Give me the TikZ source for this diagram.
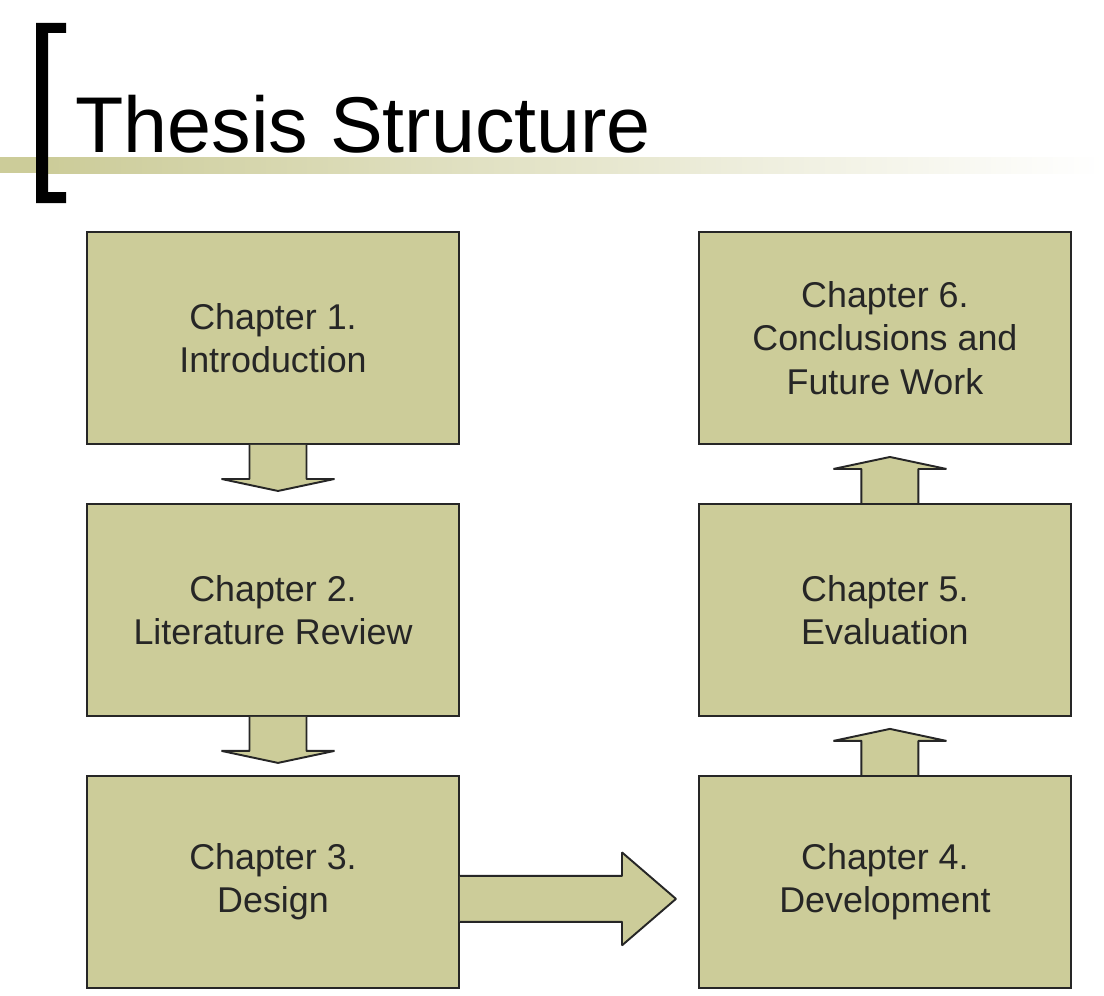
\documentclass[tikz,border=0pt]{standalone}
\usepackage{fontspec}
\setmainfont{Liberation Sans}
\usepackage{tikz}
\usetikzlibrary{positioning, calc}
\definecolor{chapfill}{HTML}{CCCC99}
\definecolor{chapline}{HTML}{262626}
\tikzset{
    chap_box/.style={rectangle, draw=chapline, line width=1.1pt, fill=chapfill, text=chapline, align=center, minimum width=7.44cm, minimum height=4.24cm, font=\fontsize{20.4}{24.6}\selectfont},
    fat_arrow/.style={draw=chapline, line width=1.1pt, fill=chapfill, line join=bevel}
}
\begin{document}
\begin{tikzpicture}[node distance=1.16cm and 4.76cm]
			\useasboundingbox (0,0) rectangle (22.08,-19.92);
			% title bar and bracket
			\fill[chapfill] (0,-3.14) rectangle (0.96,-3.46);
			\shade[left color=chapfill, right color=white] (0.96,-3.14) rectangle (22.08,-3.46);
			\fill[black] (0.72,-0.46) -- (1.32,-0.46) -- (1.32,-0.66) -- (0.96,-0.66) -- (0.96,-3.84) -- (1.32,-3.84) -- (1.32,-4.06) -- (0.72,-4.06) -- cycle;
			\node (title) [anchor=base west, inner sep=0pt, font=\fontsize{45}{54}\selectfont] at (1.5,-3.06) {Thesis Structure};
			
			\node (c1) [chap_box] at (5.46,-6.76) {Chapter 1.\\Introduction};
			\node (c2) [chap_box, below=of c1] {Chapter 2.\\Literature Review};
			\node (c3) [chap_box, below=of c2] {Chapter 3.\\Design};
			\node (c4) [chap_box, right=of c3] {Chapter 4.\\Development};
			\node (c5) [chap_box, above=of c4] {Chapter 5.\\Evaluation};
			\node (c6) [chap_box, above=of c5] {Chapter 6.\\Conclusions and\\Future Work};
			
			\foreach \a/\p/\s in {c1/south/-1, c2/south/-1, c4/north/1, c5/north/1}
				\draw [fat_arrow] ($(\a.\p)+(-0.47,0)$) -- ++(0,{0.68*\s}) -- ++(-0.56,0) -- ($(\a.\p)+(0.1,{0.92*\s})$) -- ($(\a.\p)+(1.23,{0.68*\s})$) -- ++(-0.56,0) -- ($(\a.\p)+(0.67,0)$);
			\draw [fat_arrow] ($(c3.east)+(0,-0.34)+(0,0.46)$) -- ++(3.24,0) -- ++(0,0.47) -- ($(c3.east)+(4.32,-0.34)$) -- ($(c3.east)+(3.24,-1.27)$) -- ++(0,0.47) -- ($(c3.east)+(0,-0.8)$);
		\end{tikzpicture}
\end{document}
